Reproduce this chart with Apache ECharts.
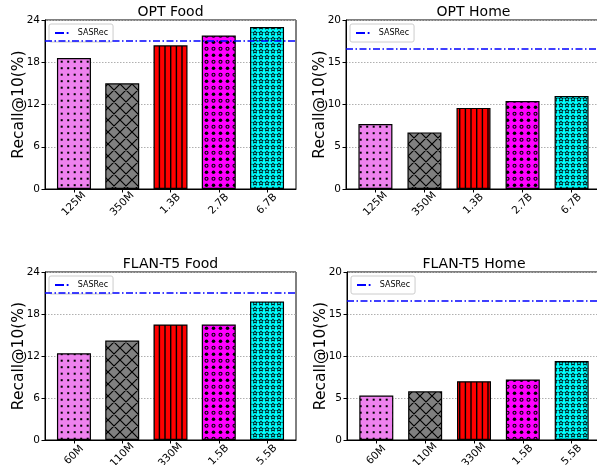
<!DOCTYPE html>
<html><head><meta charset="utf-8">
<script src="https://cdn.jsdelivr.net/npm/echarts@6/dist/echarts.min.js"></script>
<style>html,body{margin:0;padding:0;background:#fff}#c{width:597px;height:465px}</style>
</head><body><div id="c"></div>
<script>
// ---- data ----
var optCats = ['125M', '350M', '1.3B', '2.7B', '6.7B'];
var flanCats = ['60M', '110M', '330M', '1.5B', '5.5B'];
var optFood = [18.6, 15.0, 20.4, 21.8, 23.0];
var optHome = [7.7, 6.7, 9.6, 10.4, 11.0];
var flanFood = [12.4, 14.2, 16.5, 16.5, 19.8];
var flanHome = [5.3, 5.8, 7.0, 7.2, 9.4];
var sasrecOptFood = 21.1, sasrecOptHome = 16.6, sasrecFlanFood = 21.1, sasrecFlanHome = 16.6;
var titles = ['OPT Food', 'OPT Home', 'FLAN-T5 Food', 'FLAN-T5 Home'];
var foodAxis = { max: 24, interval: 6 };
var homeAxis = { max: 20, interval: 5 };

// ---- patterns ----
function tile(w, h, bg, draw) {
  var c = document.createElement('canvas'); c.width = w; c.height = h;
  var g = c.getContext('2d'); g.fillStyle = bg; g.fillRect(0, 0, w, h);
  g.fillStyle = '#000'; g.strokeStyle = '#000'; draw(g, w, h);
  return { image: c, repeat: 'repeat' };
}
function star(g, cx, cy, r) {
  g.beginPath();
  for (var i = 0; i < 10; i++) {
    var rr = i % 2 ? r * 0.45 : r, a = -Math.PI / 2 + i * Math.PI / 5;
    var x = cx + rr * Math.cos(a), y = cy + rr * Math.sin(a);
    i ? g.lineTo(x, y) : g.moveTo(x, y);
  }
  g.closePath(); g.stroke();
}
var patterns = [
  tile(13, 13, '#ee82ee', function (g) {
    [[3.2, 3.2], [9.7, 3.2], [3.2, 9.7], [9.7, 9.7]].forEach(function (p) { g.fillRect(p[0] - 1, p[1] - 1, 2, 2); });
  }),
  tile(12, 12, '#808080', function (g) {
    g.lineWidth = 1.2; g.beginPath();
    g.moveTo(0, 0); g.lineTo(12, 12); g.moveTo(12, 0); g.lineTo(0, 12);
    g.moveTo(-1, 11); g.lineTo(1, 13); g.moveTo(11, -1); g.lineTo(13, 1);
    g.moveTo(-1, 1); g.lineTo(1, -1); g.moveTo(11, 13); g.lineTo(13, 11);
    g.stroke();
  }),
  tile(17, 4, '#ff0000', function (g) {
    g.fillRect(0, 0, 1.4, 4); g.fillRect(5.7, 0, 1.4, 4); g.fillRect(11.3, 0, 1.4, 4);
  }),
  tile(7, 13, '#ff00ff', function (g) {
    g.beginPath(); g.arc(3.5, 3.2, 1.8, 0, Math.PI * 2); g.fill();
    g.lineWidth = 1.1; g.beginPath(); g.arc(3.5, 9.7, 1.5, 0, Math.PI * 2); g.stroke();
  }),
  tile(6, 6, '#00ffff', function (g) {
    g.lineWidth = 0.9; star(g, 3, 3.2, 2.4);
  })
];
var dashDotIcon = 'path://M0,0H10V2H0Z M13,0H15V2H13Z';

// ---- layout ----
var grids = [
  { left: 45, top: 20, width: 251, height: 169 },
  { left: 346, top: 20, width: 255, height: 169 },
  { left: 45, top: 272, width: 251, height: 168 },
  { left: 347, top: 272, width: 254, height: 168 }
];
var panels = [
  { cats: optCats, vals: optFood, sas: sasrecOptFood, y: foodAxis },
  { cats: optCats, vals: optHome, sas: sasrecOptHome, y: homeAxis },
  { cats: flanCats, vals: flanFood, sas: sasrecFlanFood, y: foodAxis },
  { cats: flanCats, vals: flanHome, sas: sasrecFlanHome, y: homeAxis }
];
var FONT = 'DejaVu Sans';
var option = { animation: false, textStyle: { fontFamily: FONT }, grid: [], xAxis: [], yAxis: [], series: [], title: [], legend: [] };
panels.forEach(function (p, k) {
  var gr = grids[k];
  option.grid.push({ left: gr.left, top: gr.top, width: gr.width, height: gr.height, show: true, borderColor: '#000', borderWidth: 1, backgroundColor: 'transparent', outerBoundsMode: 'none', containLabel: false });
  var idx = p.cats.map(function (c, i) { return i; });
  option.xAxis.push({
    type: 'value', gridIndex: k, min: -0.6, max: 4.6,
    axisLine: { show: true, onZero: false, lineStyle: { color: '#000', width: 1 } },
    axisTick: { show: true, customValues: idx, length: 3.5, lineStyle: { color: '#000' } },
    axisLabel: { customValues: idx, rotate: 45, align: 'center', verticalAlign: 'middle', margin: 15, fontSize: 10.5, color: '#000', fontFamily: FONT,
      formatter: (function (cats) { return function (v) { return cats[Math.round(v)]; }; })(p.cats) },
    splitLine: { show: false }
  });
  option.yAxis.push({
    type: 'value', gridIndex: k, min: 0, max: p.y.max, interval: p.y.interval,
    name: 'Recall@10(%)', nameLocation: 'middle', nameGap: 18, nameMoveOverlap: false,
    nameTextStyle: { fontSize: 15.5, color: '#000', fontFamily: FONT },
    axisLine: { show: true, onZero: false, lineStyle: { color: '#000', width: 1 } },
    axisTick: { show: true, length: 3.5, lineStyle: { color: '#000' } },
    axisLabel: { fontSize: 10.5, color: '#000', margin: 5, fontFamily: FONT },
    splitLine: { show: true, lineStyle: { color: '#b0b0b0', type: [1.5, 1.5], width: 1 } }
  });
  option.series.push({
    type: 'bar', xAxisIndex: k, yAxisIndex: k, barWidth: 34,
    data: p.vals.map(function (v, i) { return { value: [i, v], itemStyle: { color: patterns[i], borderColor: '#000', borderWidth: 1.2 } }; })
  });
  option.series.push({
    type: 'line', name: 'SASRec', xAxisIndex: k, yAxisIndex: k, data: [], symbol: 'none',
    lineStyle: { color: '#0000ff', width: 1.5, type: [7, 2.5, 1.5, 2.5] }, itemStyle: { color: '#0000ff' },
    markLine: { silent: true, symbol: ['none', 'none'], label: { show: false }, lineStyle: { color: '#0000ff', width: 1.5, type: [7, 2.5, 1.5, 2.5] }, data: [{ yAxis: p.sas }] }
  });
  option.title.push({ text: titles[k], left: gr.left + gr.width / 2, top: gr.top - 15, textAlign: 'center', padding: 0,
    textStyle: { fontSize: 14, fontWeight: 'normal', color: '#000', fontFamily: FONT } });
  option.legend.push({ data: [{ name: 'SASRec', icon: dashDotIcon, itemStyle: { color: '#0000ff', borderWidth: 0 } }], left: gr.left + 4, top: gr.top + 4, padding: [5, 5, 5, 6], itemWidth: 16, itemHeight: 1.8, itemGap: 4,
    borderColor: '#cccccc', borderWidth: 1, borderRadius: 2, backgroundColor: '#fff',
    textStyle: { fontSize: 8, color: '#000', fontFamily: FONT, padding: [0, 0, 0, 3] } });
});
var chart = echarts.init(document.getElementById('c'), null, { renderer: 'canvas' });
chart.setOption(option);
</script></body></html>
